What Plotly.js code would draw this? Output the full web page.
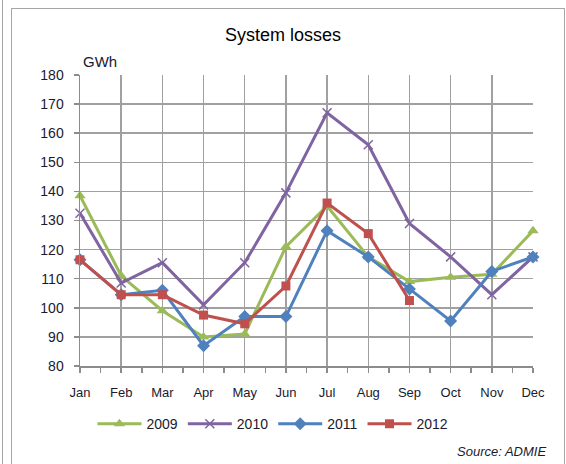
<!DOCTYPE html>
<html>
<head>
<meta charset="utf-8">
<script src="https://cdn.plot.ly/plotly-3.0.1.min.js"></script>
<style>
  html, body { margin: 0; padding: 0; background: #fff; }
  #wrap { position: relative; width: 566px; height: 464px; overflow: hidden; }
  #chart { position: absolute; left: 0; top: 0; width: 566px; height: 464px; }
  .bd { position: absolute; background: #a6a6a6; pointer-events: none; }
</style>
</head>
<body>
<div id="wrap">
  <div id="chart"></div>
  <div class="bd" style="left:2px;top:0;width:1px;height:464px;"></div>
  <div class="bd" style="left:11px;top:8px;width:1px;height:456px;"></div>
  <div class="bd" style="left:11px;top:8px;width:554px;height:1px;"></div>
  <div class="bd" style="left:564px;top:8px;width:1px;height:456px;"></div>
</div>
<script>
const months = ["Jan","Feb","Mar","Apr","May","Jun","Jul","Aug","Sep","Oct","Nov","Dec"];
const y2009 = [138.5, 111, 99, 90, 91, 121, 135, 117.5, 109, 110.5, 111.5, 126.5];
const y2010 = [132.5, 108.5, 115.5, 101, 115.5, 139.5, 167, 156, 129, 117.5, 104.5, 117.5];
const y2011 = [116.5, 104.5, 106, 87, 97, 97, 126.5, 117.5, 106.5, 95.5, 112.5, 117.5];
const y2012 = [116.5, 104.5, 104.5, 97.5, 94.5, 107.5, 136, 125.5, 102.5];
const seriesNames = ["2009","2010","2011","2012"];

const idx = months.map((m, i) => i);
const font = "Liberation Sans, Arial, sans-serif";

function tr(name, y, color, symbol, size) {
  return {
    type: "scatter", mode: "lines+markers", name: name,
    x: idx.slice(0, y.length), y: y,
    line: { color: color, width: 3 },
    marker: { color: color, symbol: symbol, size: size,
              line: { color: color, width: symbol === "x-thin" ? 1.5 : 0 } },
    cliponaxis: false
  };
}

const data = [
  tr(seriesNames[0], y2009, "#9BBB59", "triangle-up", 10),
  tr(seriesNames[1], y2010, "#8064A2", "x-thin", 9),
  tr(seriesNames[2], y2011, "#4F81BD", "diamond", 10),
  tr(seriesNames[3], y2012, "#C0504D", "square", 9)
];

const layout = {
  width: 566, height: 464,
  margin: { l: 80, r: 33, t: 75, b: 98 },
  paper_bgcolor: "#fff", plot_bgcolor: "#fff",
  font: { family: font, size: 13, color: "#1a1a2e" },
  showlegend: true,
  title: { text: "System losses", font: { family: font, size: 18, color: "#000" },
           x: 0.5, xanchor: "center", y: 0.925, yanchor: "middle" },
  xaxis: {
    range: [0, 11], tickvals: idx, ticktext: months,
    showgrid: true, gridcolor: "#a0a0a0", gridwidth: 1.5,
    showline: true, linecolor: "#8c8c8c", linewidth: 1.5,
    ticks: "outside", ticklen: 5, tickcolor: "#8c8c8c", tickwidth: 1.5,
    minor: { dtick: 0.5, tick0: 0, ticks: "outside", ticklen: 5, tickcolor: "#8c8c8c", tickwidth: 1.5, showgrid: false },
    tickfont: { family: font, size: 13, color: "#1a1a2e" },
    ticklabelstandoff: 9,
    zeroline: false, fixedrange: true
  },
  yaxis: {
    range: [80, 180], dtick: 10, tick0: 80,
    showgrid: true, gridcolor: "#a0a0a0", gridwidth: 1.5,
    showline: true, linecolor: "#8c8c8c", linewidth: 1.5,
    ticks: "outside", ticklen: 5, tickcolor: "#8c8c8c", tickwidth: 1.5,
    tickfont: { family: font, size: 14, color: "#1a1a2e" },
    ticklabelstandoff: 7,
    zeroline: false, fixedrange: true
  },
  legend: {
    orientation: "h", x: 0.426, xanchor: "center", y: -0.2, yanchor: "middle",
    font: { family: font, size: 14, color: "#1a1a2e" },
    itemwidth: 44, traceorder: "normal", bgcolor: "rgba(0,0,0,0)"
  },
  annotations: [
    { text: "GWh", xref: "paper", yref: "paper", x: 0.002, y: 1.045, xanchor: "left", yanchor: "middle",
      showarrow: false, font: { family: font, size: 15, color: "#1a1a2e" } },
    { text: "<i>Source: ADMIE</i>", xref: "paper", yref: "paper", x: 1.033, y: -0.293, xanchor: "right", yanchor: "middle",
      showarrow: false, font: { family: font, size: 13, color: "#1a1a2e" } }
  ]
};

Plotly.newPlot("chart", data, layout, { displayModeBar: false, staticPlot: true });
</script>
</body>
</html>
